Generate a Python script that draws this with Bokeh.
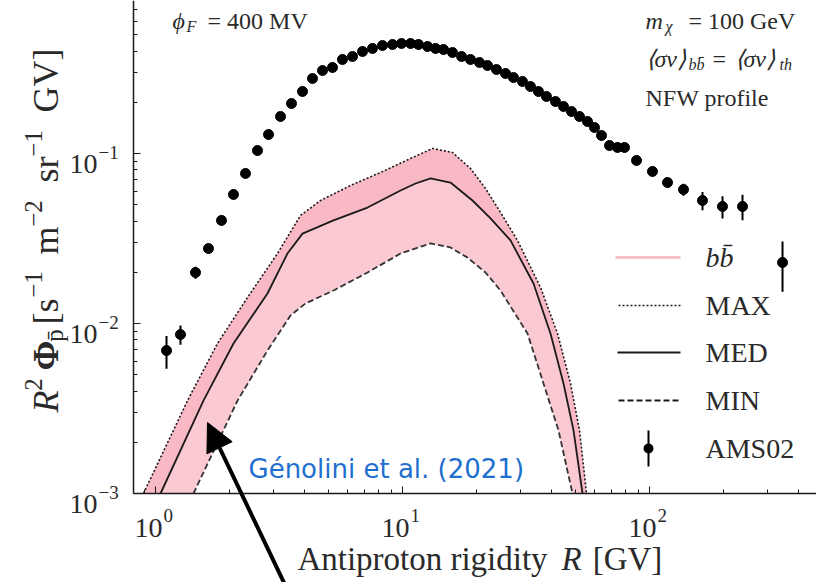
import math
from bokeh.plotting import figure
from bokeh.models import (Range1d, FixedTicker, CustomJSTickFormatter, Label,
                          Arrow, NormalHead, BoxAnnotation, LogAxis)
from bokeh.embed import file_html
from bokeh.resources import INLINE

# ---------------- data ----------------
# AMS-02 antiproton flux (R^2 * flux) with 1-sigma errors
ams_R = [1.108, 1.262, 1.452, 1.639, 1.850, 2.069, 2.314, 2.588, 2.868, 3.207,
         3.553, 3.937, 4.322, 4.745, 5.207, 5.716, 6.276, 6.887, 7.557, 8.299,
         9.111, 9.908, 10.78, 11.61, 12.63, 13.61, 14.66, 15.94, 17.34, 18.85,
         20.50, 22.09, 24.02, 26.12, 28.14, 30.60, 32.97, 35.52, 38.28, 41.63,
         44.86, 48.33, 52.08, 56.11, 59.89, 63.94, 68.89, 74.21, 79.21, 88.6,
         102.8, 118.3, 137.3, 163.9, 197.5, 238.0, 345.6]
ams_flux = [0.00693, 0.00861, 0.01995, 0.0276, 0.0404, 0.0574, 0.0763, 0.1041, 0.1293, 0.1651,
            0.1968, 0.2316, 0.2762, 0.3077, 0.3206, 0.3572, 0.3721, 0.3981, 0.4147, 0.4318,
            0.4377, 0.4437, 0.4437, 0.4377, 0.4259, 0.4147, 0.4090, 0.3927, 0.3721, 0.3572,
            0.3429, 0.3293, 0.3119, 0.2955, 0.2799, 0.2652, 0.2478, 0.2316, 0.2164, 0.2022,
            0.1890, 0.1766, 0.1651, 0.1542, 0.1422, 0.1276, 0.1114, 0.1085, 0.1085, 0.0910,
            0.0784, 0.0675, 0.0614, 0.0529, 0.0488, 0.0488, 0.02286]
ams_err = [0.00152, 0.00112, 0.0016, 0.00166, 0.0020, 0.0023, 0.0031, 0.0036, 0.0039, 0.0050,
           0.0059, 0.0069, 0.0083, 0.0092, 0.0096, 0.0107, 0.0112, 0.0119, 0.0124, 0.0130,
           0.0131, 0.0133, 0.0133, 0.0131, 0.0128, 0.0124, 0.0123, 0.0118, 0.0112, 0.0107,
           0.0103, 0.0099, 0.0094, 0.0089, 0.0084, 0.0080, 0.0074, 0.0069, 0.0065, 0.0061,
           0.0057, 0.0053, 0.0050, 0.0048, 0.0045, 0.0042, 0.0039, 0.0039, 0.0040, 0.0037,
           0.0040, 0.0042, 0.0050, 0.0065, 0.0073, 0.0083, 0.0075]

# DM antiproton predictions (b bbar channel): envelope and median
max_R = [0.894, 1.348, 1.782, 2.358, 3.118, 3.864, 4.656, 6.155, 8.145, 10.77, 13.22,
         15.94, 18.85, 21.68, 24.94, 29.21, 36.21, 42.42, 47.88, 52.08, 55.59]
max_flux = [1.00e-3, 3.52e-3, 7.63e-3, 1.422e-2, 2.58e-2, 4.32e-2, 5.29e-2, 6.48e-2,
            7.73e-2, 9.34e-2, 0.107, 0.1014, 0.0816, 0.0622, 0.0450, 0.0308, 0.0163, 8.73e-3,
            4.44e-3, 2.35e-3, 1.00e-3]

med_R = [1.048, 1.564, 2.069, 2.840, 3.422, 3.937, 5.255, 7.217, 9.815, 11.29, 12.99, 15.64,
         19.20, 22.72, 27.37, 33.92, 39.73, 44.86, 49.24, 53.56]
med_flux = [1.00e-3, 3.52e-3, 7.63e-3, 1.501e-2, 2.58e-2, 3.38e-2, 4.04e-2, 4.81e-2,
            6.06e-2, 6.66e-2, 7.13e-2, 6.75e-2, 5.29e-2, 4.15e-2, 3.08e-2, 1.719e-2, 8.73e-3,
            4.44e-3, 2.35e-3, 1.00e-3]

min_R = [1.425, 2.148, 2.840, 3.521, 4.049, 5.255, 7.217, 9.815, 12.99, 15.64, 18.33,
         21.68, 24.94, 32.07, 37.23, 42.82, 48.78]
min_flux = [1.00e-3, 3.52e-3, 6.93e-3, 1.115e-2, 1.312e-2, 1.563e-2, 1.995e-2,
            2.58e-2, 2.96e-2, 2.80e-2, 2.44e-2, 1.995e-2, 1.563e-2, 8.73e-3, 4.44e-3,
            2.35e-3, 1.00e-3]

x_major = [1, 10, 100]
y_major = [1e-3, 1e-2, 1e-1]

# ---------------- geometry ----------------
W, H = 816, 582
AX_L, AX_B = 133, 493            # pixel column / row of the two axis lines
X_ONE, X_DEC = 155.0, 247.0      # pixel column of R = 1 and pixels per decade
Y_TENTH, Y_DEC = 153.0, 170.0    # pixel row of 0.1 and pixels per decade


def at_x(px):
    return 10 ** ((px - X_ONE) / X_DEC)


def at_y(py):
    return 10 ** (-1 - (py - Y_TENTH) / Y_DEC)


def col_of(v):
    return X_ONE + X_DEC * math.log10(v)


def row_of(v):
    return Y_TENTH - Y_DEC * (math.log10(v) + 1)


SERIF = "Liberation Serif"
INK = "#1a1a1a"
TXT = "#2a2a2a"
PINK_DENSE = "#F8B9C5"
PINK_LIGHT = "#FAC9D2"

# the frame covers the whole canvas; the axes sit at fixed positions inside it
p = figure(width=W, height=H, x_axis_type="log", y_axis_type="log",
           x_axis_location=None, y_axis_location=None,
           x_range=Range1d(at_x(0), at_x(W)), y_range=Range1d(at_y(H), at_y(0)),
           output_backend="svg", toolbar_location=None, min_border=0)
p.outline_line_color = None
p.grid.visible = False
p.background_fill_color = "white"
p.border_fill_color = "white"

# ---------------- axes ----------------
x_minor = [0.9] + [k for k in range(2, 10)] + [10 * k for k in range(2, 10)] + [200, 300, 400]
y_minor = ([k * 1e-3 for k in range(2, 10)] + [k * 1e-2 for k in range(2, 10)]
           + [k * 1e-1 for k in range(2, 8)])

xaxis = LogAxis(fixed_location=at_y(AX_B), bounds=(at_x(AX_L), at_x(W)),
                ticker=FixedTicker(ticks=x_major, minor_ticks=x_minor))
yaxis = LogAxis(fixed_location=at_x(AX_L), bounds=(at_y(AX_B), at_y(0)),
                ticker=FixedTicker(ticks=y_major, minor_ticks=y_minor))
for ax in (xaxis, yaxis):
    # tick labels are typeset below as base + raised exponent
    ax.formatter = CustomJSTickFormatter(code="return ''")
    ax.axis_line_color = INK
    ax.axis_line_width = 1.5
    ax.major_tick_in = 7
    ax.major_tick_out = 0
    ax.minor_tick_in = 4
    ax.minor_tick_out = 0
    ax.major_tick_line_color = INK
    ax.minor_tick_line_color = INK
p.add_layout(xaxis, "below")
p.add_layout(yaxis, "left")

# ---------------- prediction band ----------------
p.patch(max_R + min_R[::-1], max_flux + min_flux[::-1],
        fill_color=PINK_LIGHT, line_color=None)
p.patch(max_R + med_R[::-1], max_flux + med_flux[::-1],
        fill_color=PINK_DENSE, line_color=None)

p.line(max_R, max_flux, line_color=INK, line_width=1.6, line_dash="2 2")
p.line(med_R, med_flux, line_color=INK, line_width=1.8)
p.line(min_R, min_flux, line_color="#333333", line_width=1.8, line_dash="6 3")

# ---------------- AMS-02 data ----------------
lo = [f - e for f, e in zip(ams_flux, ams_err)]
hi = [f + e for f, e in zip(ams_flux, ams_err)]
p.segment(ams_R, lo, ams_R, hi, line_color="black", line_width=2)
p.scatter(ams_R, ams_flux, size=10, fill_color="black", line_color="black")


# ---------------- text helpers ----------------
def put(text, px, py, size="28px", style="normal", align="center",
        baseline="middle", angle=0.0, color=TXT, font=SERIF):
    p.add_layout(Label(x=at_x(px), y=at_y(py), text=text, text_font=font,
                       text_font_size=size, text_font_style=style,
                       text_align=align, text_baseline=baseline, angle=angle,
                       text_color=color))


def stroke(x0, y0, x1, y1, color=INK, width=1.8, dash="solid"):
    p.add_layout(Arrow(end=None, x_start=at_x(x0), y_start=at_y(y0),
                       x_end=at_x(x1), y_end=at_y(y1), line_color=color,
                       line_width=width, line_dash=dash))


# tick labels: 10 with a raised exponent
for v in x_major:
    c = col_of(v)
    put("10", c + 7, 527, align="right", baseline="alphabetic")
    put(str(round(math.log10(v))), c + 8, 515, size="19px", align="left",
        baseline="alphabetic")
for v in y_major:
    r = row_of(v)
    put("10", 97, r + 10, align="right", baseline="alphabetic")
    put("−" + str(-round(math.log10(v))), 98, r - 1, size="19px", align="left",
        baseline="alphabetic")

# x axis title
put("Antiproton rigidity", 422, 558, size="33px")
put("R", 571, 558, size="33px", style="italic")
put("[GV]", 627, 558, size="33px")

# y axis title (rotated pieces, read bottom to top)
half_pi = math.pi / 2
put("R", 45, 401, size="36px", style="italic", angle=half_pi)
put("2", 33, 384, size="25px", angle=half_pi)
put("Φ", 45, 355, size="36px", style="bold", angle=half_pi)
put("p̄", 54, 335, size="25px", angle=half_pi)
put("[s", 45, 311, size="36px", angle=half_pi)
put("−1", 33, 284, size="25px", angle=half_pi)
put("m", 45, 240, size="36px", angle=half_pi)
put("−2", 33, 213, size="25px", angle=half_pi)
put("sr", 45, 169, size="36px", angle=half_pi)
put("−1", 33, 143, size="25px", angle=half_pi)
put("GV]", 45, 80, size="36px", angle=half_pi)

# model parameters, top corners
put("ϕ", 172, 20, size="24px", style="italic", align="left", baseline="alphabetic")
put("F", 186, 26, size="16px", style="italic", align="left", baseline="alphabetic")
put("= 400 MV", 207, 20, size="24px", align="left", baseline="alphabetic")

put("m", 645, 20, size="24px", style="italic", align="left", baseline="alphabetic")
put("χ", 665, 26, size="16px", style="italic", align="left", baseline="alphabetic")
put("= 100 GeV", 688, 20, size="24px", align="left", baseline="alphabetic")

put("⟨σv⟩", 645, 58, size="24px", style="italic", align="left", baseline="alphabetic")
put("bb̄", 688, 64, size="16px", style="italic", align="left", baseline="alphabetic")
put("=", 712, 58, size="24px", align="left", baseline="alphabetic")
put("⟨σv⟩", 734, 58, size="24px", style="italic", align="left", baseline="alphabetic")
put("th", 779, 64, size="16px", style="italic", align="left", baseline="alphabetic")
put("NFW profile", 645, 97, size="24px", align="left", baseline="alphabetic")

# ---------------- legend ----------------
stroke(615, 257, 680, 257, color="#F6C1CC", width=3)
stroke(618, 305, 680, 305, dash="2 2", width=1.6)
stroke(617, 352, 680, 352, width=1.8)
stroke(618, 400, 680, 400, dash="6 3", width=1.8)
stroke(648, 430, 648, 466, color="black", width=2)
p.add_layout(BoxAnnotation(left=at_x(643), right=at_x(653), top=at_y(443),
                           bottom=at_y(453), fill_color="black", fill_alpha=1,
                           line_color=None, border_radius=5))
put("bb̄", 705, 257, style="italic", align="left")
put("MAX", 705, 305, align="left")
put("MED", 705, 352, align="left")
put("MIN", 705, 400, align="left")
put("AMS02", 705, 448, align="left")

# ---------------- reference arrow ----------------
put("Génolini et al. (2021)", 248, 468, size="26px", align="left",
    color="#1f6fd0", font="DejaVu Sans")
p.add_layout(Arrow(end=NormalHead(size=28, fill_color="black", line_color="black"),
                   x_start=at_x(292), y_start=at_y(600),
                   x_end=at_x(207), y_end=at_y(422),
                   line_color="black", line_width=4))

open("out.html", "w").write(file_html(p, INLINE))
